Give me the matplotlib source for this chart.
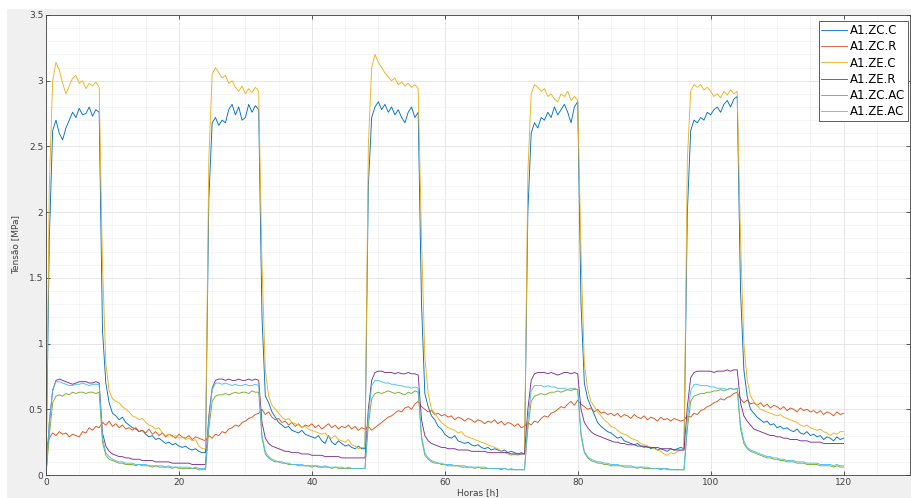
import numpy as np
import matplotlib
matplotlib.use('Agg')
import matplotlib.pyplot as plt
from matplotlib.patches import Rectangle

plt.rcParams.update({'font.size': 6.5, 'font.family': 'DejaVu Sans'})

# Tempo de ensaio (h), leitura a cada 0.5 h
horas = np.arange(0, 120.5, 0.5)

nomes = ['A1.ZC.C', 'A1.ZC.R', 'A1.ZE.C', 'A1.ZE.R', 'A1.ZC.AC', 'A1.ZE.AC']
cores = ['#0072BD', '#D95319', '#EDB120', '#7E2F8E', '#77AC30', '#4DBEEE']

# Tensao [MPa], uma linha por dia (48 leituras) + leitura final
zc_c = [
    0.00, 1.80, 2.62, 2.70, 2.60, 2.55, 2.64, 2.70, 2.76, 2.72, 2.79, 2.74, 2.75, 2.80, 2.73, 2.78, 2.76,
    1.10, 0.70, 0.55, 0.47, 0.45, 0.42, 0.44, 0.40, 0.38, 0.36, 0.35, 0.33, 0.34, 0.31, 0.29, 0.30,
    0.27, 0.28, 0.26, 0.24, 0.25, 0.23, 0.24, 0.22, 0.21, 0.22, 0.20, 0.19, 0.20, 0.18, 0.17,
    0.17, 2.10, 2.68, 2.72, 2.66, 2.70, 2.68, 2.78, 2.82, 2.74, 2.80, 2.70, 2.72, 2.82, 2.76, 2.81, 2.78,
    1.20, 0.60, 0.55, 0.48, 0.44, 0.40, 0.38, 0.36, 0.37, 0.34, 0.33, 0.32, 0.34, 0.31, 0.30, 0.29,
    0.28, 0.30, 0.26, 0.24, 0.30, 0.25, 0.23, 0.26, 0.24, 0.22, 0.23, 0.21, 0.20, 0.22, 0.20,
    0.20, 2.20, 2.72, 2.80, 2.84, 2.78, 2.82, 2.76, 2.80, 2.74, 2.78, 2.72, 2.68, 2.76, 2.80, 2.72, 2.76,
    1.30, 0.62, 0.52, 0.45, 0.42, 0.37, 0.35, 0.31, 0.29, 0.28, 0.30, 0.26, 0.25, 0.24, 0.25, 0.23,
    0.22, 0.23, 0.21, 0.20, 0.21, 0.19, 0.20, 0.19, 0.18, 0.19, 0.17, 0.18, 0.17, 0.16, 0.17,
    0.16, 2.00, 2.60, 2.68, 2.64, 2.72, 2.70, 2.76, 2.72, 2.80, 2.74, 2.78, 2.82, 2.76, 2.68, 2.80, 2.84,
    1.30, 0.70, 0.58, 0.52, 0.46, 0.40, 0.37, 0.35, 0.33, 0.32, 0.30, 0.28, 0.29, 0.26, 0.25, 0.24,
    0.23, 0.24, 0.22, 0.21, 0.22, 0.20, 0.21, 0.19, 0.20, 0.19, 0.18, 0.20, 0.19, 0.20, 0.21,
    0.20, 2.00, 2.62, 2.70, 2.68, 2.72, 2.70, 2.76, 2.74, 2.78, 2.80, 2.76, 2.82, 2.85, 2.80, 2.86, 2.88,
    1.40, 0.80, 0.60, 0.50, 0.47, 0.44, 0.42, 0.40, 0.41, 0.38, 0.39, 0.36, 0.37, 0.35, 0.36, 0.34,
    0.33, 0.35, 0.32, 0.31, 0.33, 0.30, 0.31, 0.29, 0.30, 0.27, 0.29, 0.28, 0.26, 0.29, 0.27,
    0.28,
]

zc_r = [
    0.20, 0.28, 0.32, 0.30, 0.33, 0.31, 0.32, 0.29, 0.31, 0.30, 0.29, 0.33, 0.32, 0.36, 0.34, 0.37,
    0.36, 0.40, 0.38, 0.41, 0.37, 0.39, 0.36, 0.38, 0.35, 0.36, 0.34, 0.36, 0.33, 0.34, 0.32, 0.35,
    0.31, 0.33, 0.30, 0.32, 0.29, 0.31, 0.30, 0.28, 0.31, 0.29, 0.28, 0.30, 0.27, 0.29, 0.28, 0.27,
    0.26, 0.30, 0.28, 0.31, 0.30, 0.33, 0.32, 0.35, 0.36, 0.38, 0.37, 0.40, 0.41, 0.43, 0.44, 0.46,
    0.47, 0.50, 0.46, 0.48, 0.44, 0.42, 0.43, 0.40, 0.41, 0.38, 0.40, 0.37, 0.39, 0.36, 0.38, 0.37,
    0.39, 0.36, 0.38, 0.35, 0.37, 0.39, 0.36, 0.38, 0.35, 0.37, 0.36, 0.38, 0.35, 0.37, 0.34, 0.36,
    0.35, 0.37, 0.34, 0.36, 0.38, 0.40, 0.42, 0.44, 0.45, 0.47, 0.49, 0.48, 0.51, 0.52, 0.50, 0.54,
    0.56, 0.52, 0.50, 0.48, 0.49, 0.46, 0.47, 0.45, 0.46, 0.44, 0.45, 0.42, 0.44, 0.43, 0.41, 0.43,
    0.42, 0.40, 0.42, 0.41, 0.39, 0.41, 0.40, 0.42, 0.39, 0.41, 0.38, 0.40, 0.39, 0.37, 0.39, 0.36,
    0.37, 0.40, 0.38, 0.41, 0.40, 0.43, 0.45, 0.44, 0.47, 0.48, 0.50, 0.52, 0.51, 0.54, 0.56, 0.53,
    0.57, 0.54, 0.52, 0.50, 0.51, 0.48, 0.50, 0.47, 0.48, 0.46, 0.47, 0.45, 0.47, 0.44, 0.46, 0.45,
    0.43, 0.46, 0.44, 0.43, 0.45, 0.42, 0.44, 0.43, 0.41, 0.44, 0.42, 0.43, 0.41, 0.43, 0.42, 0.41,
    0.42, 0.45, 0.44, 0.47, 0.46, 0.49, 0.50, 0.52, 0.53, 0.55, 0.56, 0.58, 0.57, 0.59, 0.60, 0.62,
    0.63, 0.58, 0.55, 0.57, 0.54, 0.55, 0.53, 0.55, 0.52, 0.54, 0.51, 0.53, 0.52, 0.50, 0.52, 0.49,
    0.51, 0.50, 0.48, 0.51, 0.49, 0.50, 0.48, 0.49, 0.47, 0.49, 0.46, 0.48, 0.47, 0.45, 0.48, 0.46,
    0.47,
]

ze_c = [
    0.00, 2.20, 3.00, 3.14, 3.08, 2.98, 2.90, 2.96, 3.02, 3.04, 2.98, 3.00, 2.94, 2.98, 2.96, 2.99, 2.95,
    1.60, 0.85, 0.64, 0.58, 0.56, 0.55, 0.52, 0.50, 0.48, 0.45, 0.44, 0.42, 0.43, 0.40, 0.38, 0.37,
    0.35, 0.36, 0.32, 0.30, 0.31, 0.29, 0.30, 0.28, 0.29, 0.27, 0.28, 0.26, 0.27, 0.22, 0.20,
    0.20, 2.40, 3.05, 3.10, 3.06, 3.02, 3.04, 2.98, 3.00, 2.95, 2.92, 2.96, 2.90, 2.94, 2.91, 2.95, 2.92,
    1.60, 0.80, 0.60, 0.53, 0.50, 0.47, 0.44, 0.42, 0.43, 0.40, 0.39, 0.38, 0.36, 0.37, 0.35, 0.34,
    0.33, 0.32, 0.31, 0.32, 0.29, 0.28, 0.30, 0.27, 0.26, 0.25, 0.27, 0.23, 0.22, 0.20, 0.21,
    0.21, 2.50, 3.10, 3.20, 3.14, 3.10, 3.06, 3.03, 3.00, 3.02, 2.97, 2.99, 2.96, 2.98, 2.95, 2.97, 2.94,
    1.80, 0.90, 0.62, 0.50, 0.47, 0.43, 0.40, 0.38, 0.36, 0.35, 0.34, 0.32, 0.33, 0.30, 0.29, 0.28,
    0.27, 0.26, 0.25, 0.24, 0.23, 0.22, 0.21, 0.20, 0.18, 0.17, 0.16, 0.15, 0.16, 0.15, 0.16,
    0.16, 2.30, 2.90, 2.97, 2.95, 2.92, 2.94, 2.88, 2.90, 2.86, 2.84, 2.90, 2.88, 2.92, 2.85, 2.88, 2.85,
    1.70, 0.85, 0.65, 0.56, 0.52, 0.48, 0.45, 0.42, 0.40, 0.37, 0.36, 0.34, 0.32, 0.31, 0.30, 0.28,
    0.27, 0.26, 0.24, 0.23, 0.22, 0.21, 0.20, 0.19, 0.18, 0.16, 0.15, 0.17, 0.16, 0.18, 0.19,
    0.19, 2.40, 2.92, 2.97, 2.95, 2.97, 2.93, 2.95, 2.92, 2.88, 2.90, 2.87, 2.92, 2.89, 2.93, 2.90, 2.92,
    1.80, 1.00, 0.72, 0.60, 0.56, 0.53, 0.50, 0.49, 0.48, 0.47, 0.46, 0.45, 0.46, 0.44, 0.43, 0.42,
    0.41, 0.40, 0.38, 0.37, 0.38, 0.36, 0.35, 0.34, 0.35, 0.33, 0.32, 0.30, 0.32, 0.31, 0.33,
    0.33,
]

ze_r = [
    0.00, 0.40, 0.64, 0.72, 0.73, 0.72, 0.71, 0.70, 0.69, 0.70, 0.71, 0.71, 0.71, 0.70, 0.70, 0.71, 0.70,
    0.32, 0.22, 0.18, 0.16, 0.15, 0.14, 0.14, 0.13, 0.13, 0.12, 0.12, 0.12, 0.11, 0.11, 0.11, 0.11,
    0.10, 0.10, 0.10, 0.10, 0.10, 0.09, 0.09, 0.09, 0.09, 0.09, 0.09, 0.08, 0.08, 0.08, 0.08,
    0.08, 0.45, 0.66, 0.72, 0.73, 0.73, 0.72, 0.73, 0.72, 0.72, 0.73, 0.72, 0.72, 0.73, 0.72, 0.73, 0.72,
    0.40, 0.28, 0.24, 0.22, 0.21, 0.20, 0.19, 0.18, 0.18, 0.17, 0.17, 0.17, 0.16, 0.16, 0.16, 0.15,
    0.15, 0.15, 0.15, 0.14, 0.14, 0.14, 0.14, 0.14, 0.13, 0.13, 0.13, 0.13, 0.13, 0.13, 0.13,
    0.13, 0.50, 0.72, 0.78, 0.79, 0.79, 0.78, 0.78, 0.78, 0.77, 0.78, 0.77, 0.77, 0.78, 0.77, 0.77, 0.76,
    0.42, 0.30, 0.26, 0.24, 0.23, 0.22, 0.21, 0.21, 0.20, 0.20, 0.20, 0.19, 0.19, 0.19, 0.19, 0.18,
    0.18, 0.18, 0.18, 0.18, 0.17, 0.17, 0.17, 0.17, 0.17, 0.17, 0.17, 0.16, 0.16, 0.16, 0.16,
    0.16, 0.50, 0.72, 0.77, 0.78, 0.78, 0.78, 0.77, 0.78, 0.77, 0.76, 0.77, 0.78, 0.78, 0.77, 0.78, 0.77,
    0.50, 0.40, 0.36, 0.33, 0.31, 0.30, 0.29, 0.28, 0.27, 0.26, 0.25, 0.25, 0.24, 0.24, 0.23, 0.23,
    0.23, 0.22, 0.22, 0.22, 0.21, 0.21, 0.21, 0.21, 0.20, 0.20, 0.20, 0.20, 0.19, 0.19, 0.19,
    0.19, 0.52, 0.74, 0.78, 0.79, 0.79, 0.79, 0.79, 0.79, 0.78, 0.79, 0.79, 0.79, 0.80, 0.79, 0.80, 0.80,
    0.55, 0.45, 0.41, 0.38, 0.35, 0.34, 0.33, 0.32, 0.31, 0.30, 0.30, 0.29, 0.29, 0.28, 0.28, 0.27,
    0.27, 0.27, 0.26, 0.26, 0.26, 0.25, 0.25, 0.25, 0.25, 0.24, 0.24, 0.24, 0.24, 0.24, 0.24,
    0.24,
]

zc_ac = [
    0.00, 0.30, 0.55, 0.60, 0.61, 0.60, 0.62, 0.61, 0.63, 0.62, 0.63, 0.63, 0.62, 0.63, 0.63, 0.62, 0.63,
    0.25, 0.15, 0.12, 0.11, 0.10, 0.09, 0.09, 0.08, 0.08, 0.08, 0.07, 0.08, 0.07, 0.07, 0.07, 0.06,
    0.07, 0.06, 0.06, 0.06, 0.06, 0.05, 0.06, 0.05, 0.05, 0.05, 0.05, 0.05, 0.05, 0.04, 0.04,
    0.04, 0.35, 0.56, 0.60, 0.61, 0.61, 0.62, 0.61, 0.62, 0.63, 0.62, 0.63, 0.63, 0.62, 0.64, 0.63, 0.63,
    0.28, 0.16, 0.13, 0.11, 0.10, 0.10, 0.09, 0.09, 0.08, 0.08, 0.08, 0.07, 0.07, 0.07, 0.07, 0.06,
    0.07, 0.06, 0.06, 0.06, 0.06, 0.05, 0.06, 0.05, 0.05, 0.05, 0.05, 0.05, 0.05, 0.05, 0.05,
    0.05, 0.38, 0.58, 0.62, 0.63, 0.62, 0.63, 0.64, 0.63, 0.62, 0.63, 0.62, 0.61, 0.63, 0.62, 0.64, 0.63,
    0.28, 0.15, 0.12, 0.10, 0.09, 0.09, 0.08, 0.08, 0.07, 0.07, 0.07, 0.07, 0.06, 0.06, 0.06, 0.06,
    0.05, 0.06, 0.05, 0.05, 0.05, 0.05, 0.05, 0.05, 0.04, 0.05, 0.04, 0.04, 0.04, 0.04, 0.04,
    0.04, 0.35, 0.56, 0.60, 0.61, 0.62, 0.61, 0.62, 0.63, 0.63, 0.64, 0.63, 0.64, 0.65, 0.64, 0.66, 0.65,
    0.30, 0.17, 0.13, 0.11, 0.10, 0.09, 0.09, 0.08, 0.08, 0.07, 0.07, 0.07, 0.07, 0.06, 0.06, 0.06,
    0.06, 0.05, 0.06, 0.05, 0.05, 0.05, 0.05, 0.05, 0.04, 0.05, 0.04, 0.04, 0.04, 0.04, 0.04,
    0.04, 0.35, 0.56, 0.60, 0.61, 0.62, 0.62, 0.63, 0.63, 0.64, 0.64, 0.65, 0.64, 0.65, 0.66, 0.65, 0.66,
    0.35, 0.24, 0.20, 0.18, 0.17, 0.16, 0.15, 0.14, 0.13, 0.13, 0.12, 0.12, 0.11, 0.11, 0.10, 0.10,
    0.10, 0.09, 0.09, 0.09, 0.08, 0.08, 0.08, 0.08, 0.07, 0.07, 0.07, 0.07, 0.06, 0.07, 0.06,
    0.06,
]

ze_ac = [
    0.00, 0.40, 0.65, 0.71, 0.71, 0.70, 0.69, 0.68, 0.68, 0.69, 0.69, 0.70, 0.69, 0.68, 0.69, 0.69, 0.69,
    0.28, 0.17, 0.14, 0.12, 0.11, 0.10, 0.10, 0.09, 0.09, 0.09, 0.08, 0.08, 0.08, 0.08, 0.07, 0.07,
    0.07, 0.07, 0.07, 0.06, 0.07, 0.06, 0.06, 0.06, 0.06, 0.06, 0.06, 0.05, 0.06, 0.05, 0.05,
    0.05, 0.42, 0.65, 0.70, 0.70, 0.69, 0.70, 0.69, 0.68, 0.69, 0.68, 0.68, 0.69, 0.68, 0.68, 0.69, 0.68,
    0.30, 0.18, 0.14, 0.12, 0.11, 0.10, 0.10, 0.09, 0.09, 0.08, 0.08, 0.08, 0.08, 0.07, 0.07, 0.07,
    0.07, 0.07, 0.06, 0.07, 0.06, 0.06, 0.06, 0.06, 0.06, 0.05, 0.06, 0.05, 0.05, 0.05, 0.05,
    0.05, 0.45, 0.68, 0.72, 0.72, 0.71, 0.70, 0.70, 0.69, 0.69, 0.68, 0.68, 0.67, 0.67, 0.66, 0.67, 0.66,
    0.30, 0.17, 0.13, 0.11, 0.10, 0.09, 0.09, 0.08, 0.08, 0.08, 0.07, 0.07, 0.07, 0.07, 0.06, 0.06,
    0.06, 0.06, 0.06, 0.06, 0.05, 0.05, 0.05, 0.05, 0.05, 0.05, 0.04, 0.05, 0.04, 0.04, 0.04,
    0.04, 0.42, 0.64, 0.68, 0.68, 0.68, 0.67, 0.68, 0.67, 0.67, 0.66, 0.66, 0.66, 0.65, 0.66, 0.65, 0.65,
    0.32, 0.18, 0.14, 0.12, 0.11, 0.10, 0.10, 0.09, 0.09, 0.08, 0.08, 0.08, 0.07, 0.07, 0.07, 0.07,
    0.06, 0.06, 0.06, 0.06, 0.06, 0.05, 0.05, 0.05, 0.05, 0.05, 0.05, 0.04, 0.04, 0.04, 0.04,
    0.04, 0.42, 0.64, 0.69, 0.69, 0.68, 0.68, 0.68, 0.67, 0.67, 0.66, 0.66, 0.66, 0.65, 0.66, 0.65, 0.66,
    0.38, 0.26, 0.21, 0.19, 0.18, 0.17, 0.16, 0.15, 0.14, 0.14, 0.13, 0.13, 0.12, 0.12, 0.11, 0.11,
    0.11, 0.10, 0.10, 0.10, 0.09, 0.09, 0.09, 0.09, 0.08, 0.08, 0.08, 0.08, 0.07, 0.08, 0.07,
    0.07,
]

series = [zc_c, zc_r, ze_c, ze_r, zc_ac, ze_ac]

fig = plt.figure(figsize=(9.12, 4.98), dpi=100)
fig.patch.set_facecolor('white')
# fundo cinzento da janela
fig.add_artist(Rectangle((7 / 912, 0), 1, 489 / 498, transform=fig.transFigure,
                         facecolor='#f0f0f0', edgecolor='none', zorder=-10))

ax = fig.add_axes([46 / 912, 23 / 498, 864 / 912, 460 / 498])
ax.set_facecolor('white')

for nome, cor, y in zip(nomes, cores, series):
    ax.plot(horas, y, color=cor, linewidth=0.65, label=nome)

ax.set_xlim(0, 130)
ax.set_ylim(0, 3.5)
ax.set_xticks(np.arange(0, 121, 20))
ax.set_xticks(np.arange(0, 131, 5), minor=True)
ax.set_yticks(np.arange(0, 3.51, 0.5))
ax.set_yticks(np.arange(0, 3.51, 0.1), minor=True)
ax.set_yticklabels(['0', '0.5', '1', '1.5', '2', '2.5', '3', '3.5'])

ax.grid(True, which='major', color='#e2e2e2', linewidth=0.6)
ax.grid(True, which='minor', color='#f1f1f1', linewidth=0.5)
ax.set_axisbelow(True)

ax.tick_params(which='major', direction='in', length=3, width=0.6, colors='#404040',
               top=True, right=True, labelsize=6.5, pad=2)
ax.tick_params(which='minor', length=0, top=True, right=True)
for s in ax.spines.values():
    s.set_color('#404040')
    s.set_linewidth(0.6)

ax.set_xlabel('Horas [h]', fontsize=6.5, color='#404040', labelpad=1)
ax.set_ylabel('Tensão [MPa]', fontsize=6.5, color='#404040', labelpad=6)

leg = ax.legend(loc='upper right', bbox_to_anchor=(0.9977, 0.987), borderaxespad=0,
                fontsize=8.5, handlelength=2.2, handletextpad=0.2, labelspacing=0.28,
                borderpad=0.25, fancybox=False, framealpha=1)
leg.get_frame().set_edgecolor('#404040')
leg.get_frame().set_linewidth(0.6)
for linha in leg.get_lines():
    linha.set_linewidth(0.6)

plt.savefig('out.png', dpi=100)
